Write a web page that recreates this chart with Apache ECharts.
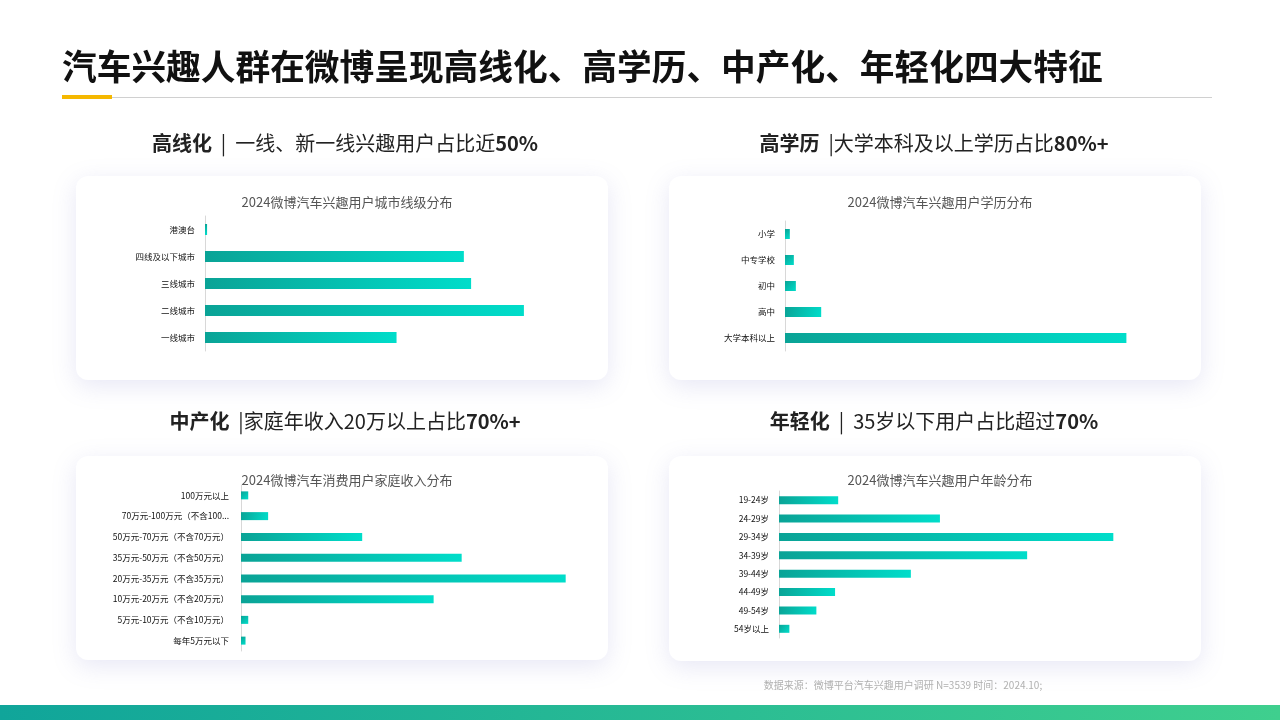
<!DOCTYPE html>
<html><head><meta charset="utf-8">
<script src="https://cdn.jsdelivr.net/npm/echarts@6/dist/echarts.min.js"></script>
<style>html,body{margin:0;padding:0;background:#fff}#c{width:1280px;height:720px}</style>
</head><body><div id="c"></div>
<script>
const cityCats = ['港澳台','四线及以下城市','三线城市','二线城市','一线城市'];
const cityVals = [0.2, 25.0, 25.7, 30.8, 18.5];
const eduCats = ['小学','中专学校','初中','高中','大学本科以上'];
const eduVals = [1.2, 2.2, 2.7, 9.0, 84.9];
const incCats = ['100万元以上','70万元-100万元（不含100万元）','50万元-70万元（不含70万元）','35万元-50万元（不含50万元）','20万元-35万元（不含35万元）','10万元-20万元（不含20万元）','5万元-10万元（不含10万元）','每年5万元以下'];
const incVals = [0.8, 3.0, 13.4, 24.4, 35.9, 21.3, 0.8, 0.5];
const ageCats = ['19-24岁','24-29岁','29-34岁','34-39岁','39-44岁','44-49岁','49-54岁','54岁以上'];
const ageVals = [5.7, 15.5, 32.2, 23.9, 12.7, 5.4, 3.6, 1.0];

const F = '"Noto Sans CJK SC","Noto Sans",sans-serif';
const chart = echarts.init(document.getElementById('c'));
const grad = {type:'linear',x:0,y:0,x2:1,y2:1,colorStops:[{offset:0,color:'#0aa396'},{offset:1,color:'#00ddca'}]};
const grids = [
  {left:205, top:216, width:380, height:135},
  {left:785, top:221, width:380, height:130},
  {left:241, top:485, width:350, height:166},
  {left:779, top:491, width:380, height:147}
];
const maxes = [36.7, 94.5, 38.7, 36.6];
const cats = [cityCats, eduCats, incCats, ageCats];
const vals = [cityVals, eduVals, incVals, ageVals];
const barW = [11, 10, 8, 8];
function card(x,y,w,h){return {type:'rect',shape:{x:x,y:y,width:w,height:h,r:12},style:{fill:'#fff',shadowBlur:24,shadowColor:'rgba(120,120,200,0.18)',shadowOffsetY:6},z:-10};}
function head(x,y,segs){
  let t='';segs.forEach(s=>{t+='{'+s[0]+'|'+s[1]+'}';});
  return {type:'text',x:x,y:y,style:{text:t,align:'center',verticalAlign:'middle',rich:{a:{fontFamily:F,fontSize:20,fontWeight:'bold',fill:'#222'},b:{fontFamily:F,fontSize:20,fill:'#222'}}}};}
chart.setOption({
  animation:false,
  title:[
    {text:'2024微博汽车兴趣用户城市线级分布',left:342,top:191,textAlign:'center'},
    {text:'2024微博汽车兴趣用户学历分布',left:935,top:191,textAlign:'center'},
    {text:'2024微博汽车消费用户家庭收入分布',left:342,top:469,textAlign:'center'},
    {text:'2024微博汽车兴趣用户年龄分布',left:935,top:469,textAlign:'center'}
  ].map(t=>Object.assign(t,{textStyle:{fontFamily:F,fontSize:13,fontWeight:'normal',color:'#555'}})),
  grid:grids,
  xAxis:grids.map((g,i)=>({type:'value',gridIndex:i,min:0,max:maxes[i],show:false})),
  yAxis:grids.map((g,i)=>({type:'category',gridIndex:i,inverse:true,data:cats[i],
    axisLine:{show:true,lineStyle:{color:'#d8d8d8'}},axisTick:{show:false},
    axisLabel:{fontFamily:F,fontSize:8.5,color:'#111',margin:i==2?12:10,width:i==2?118:100,overflow:'truncate'}})),
  series:grids.map((g,i)=>({type:'bar',xAxisIndex:i,yAxisIndex:i,data:vals[i],barWidth:barW[i],itemStyle:{color:grad}})),
  graphic:[
    card(76,176,532,204),card(669,176,532,204),card(76,456,532,204),card(669,456,532,205),
    {type:'text',x:62,y:67,style:{text:'汽车兴趣人群在微博呈现高线化、高学历、中产化、年轻化四大特征',fontFamily:F,fontSize:34.7,fontWeight:'bold',fill:'#111',verticalAlign:'middle'}},
    {type:'rect',shape:{x:112,y:97,width:1100,height:1},style:{fill:'#d0d0d0'}},
    {type:'rect',shape:{x:62,y:95,width:50,height:4},style:{fill:'#f5b800'}},
    head(345,143,[['a','高线化'],['b','  |  一线、新一线兴趣用户占比近'],['a','50%']]),
    head(934,143,[['a','高学历'],['b','  |大学本科及以上学历占比'],['a','80%+']]),
    head(345,421,[['a','中产化'],['b','  |家庭年收入20万以上占比'],['a','70%+']]),
    head(934,421,[['a','年轻化'],['b','  |  35岁以下用户占比超过'],['a','70%']]),
    {type:'text',x:903,y:685,style:{text:'数据来源：微博平台汽车兴趣用户调研 N=3539 时间：2024.10;',fontFamily:F,fontSize:10,fill:'#b0b0b0',align:'center',verticalAlign:'middle'}},
    {type:'rect',shape:{x:0,y:705,width:1280,height:15},style:{fill:{type:'linear',x:0,y:0,x2:1,y2:0,colorStops:[{offset:0,color:'#10a59a'},{offset:1,color:'#3fcf8e'}]}}}
  ]
});
</script></body></html>
